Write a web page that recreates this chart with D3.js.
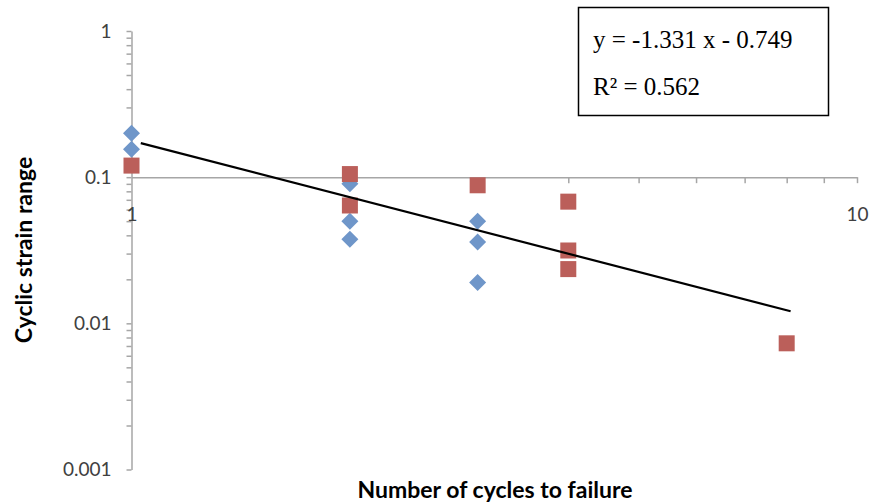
<!DOCTYPE html>
<html>
<head>
<meta charset="utf-8">
<script src="https://cdn.jsdelivr.net/npm/d3@7"></script>
<style>
	body { margin: 0; background: #fff; }
	.axis text { font-family: Lato, "Open Sans", sans-serif; font-size: 19px; fill: #404040; }
	.axis path, .axis line { stroke: #a6a6a6; stroke-width: 1.5; }
	.title { font-family: Lato, "Open Sans", sans-serif; font-weight: bold; font-size: 23px; fill: #000; }
	.eq { font-family: "Liberation Serif", "DejaVu Serif", serif; font-size: 25px; fill: #000; }
</style>
</head>
<body>
<script>
	"use strict";

	// series 1 (blue diamonds)
	var blueX = [1, 1, 2, 2, 2, 3, 3, 3];
	var blueY = [0.2, 0.155, 0.09, 0.05, 0.0376, 0.05, 0.036, 0.019];
	// series 2 (red squares)
	var redX = [1, 2, 2, 3, 4, 4, 4, 8];
	var redY = [0.12, 0.105, 0.064, 0.088, 0.068, 0.0315, 0.0235, 0.0073];
	// trend line ends as drawn
	var trendX = [1.03, 8.1];
	var trendY = [0.171, 0.0121];
	var xTickLabels = [1, 10];
	var yTickLabels = [0.001, 0.01, 0.1, 1];
	var eqLines = ["y = -1.331 x - 0.749", "R² = 0.562"];

	var width = 870,
		height = 502;

	var svg = d3.select("body").append("svg")
		.attr("width", width)
		.attr("height", height);

	var x = d3.scaleLog().domain([1, 10]).range([131.5, 857]);
	var y = d3.scaleLog().domain([0.001, 1]).range([469.5, 31]);

	// every 1..9 step of each decade
	function logTicks(lo, hi) {
		var t = [];
		for (var e = lo; e < hi; e++) {
			for (var k = 1; k < 10; k++) t.push(k * Math.pow(10, e));
		}
		t.push(Math.pow(10, hi));
		return t;
	}
	function isLabel(list) {
		return function(d) {
			for (var i = 0; i < list.length; i++) {
				if (Math.abs(d - list[i]) / list[i] < 1e-6) return String(list[i]);
			}
			return "";
		};
	}

	var yAxis = d3.axisLeft(y)
		.tickValues(logTicks(-3, 0))
		.tickFormat(isLabel(yTickLabels))
		.tickSize(5)
		.tickSizeOuter(0)
		.tickPadding(15);

	var xAxis = d3.axisBottom(x)
		.tickValues(logTicks(0, 1))
		.tickFormat(isLabel(xTickLabels))
		.tickSize(6)
		.tickSizeOuter(0)
		.tickPadding(24);

	svg.append("g")
		.attr("class", "axis")
		.attr("transform", "translate(" + x(1) + ",0)")
		.call(yAxis);

	var gx = svg.append("g")
		.attr("class", "axis")
		.attr("transform", "translate(0," + y(0.1) + ")")
		.call(xAxis);
	gx.selectAll(".tick").filter(function(d) { return d === 1; }).select("line").remove();

	// blue diamonds
	svg.append("g").selectAll("path")
		.data(d3.range(blueX.length))
		.enter().append("path")
		.attr("d", "M0,-8.5L8.5,0L0,8.5L-8.5,0Z")
		.attr("fill", "#6f96c9")
		.attr("transform", function(i) { return "translate(" + x(blueX[i]) + "," + y(blueY[i]) + ")"; });

	// red squares
	svg.append("g").selectAll("rect")
		.data(d3.range(redX.length))
		.enter().append("rect")
		.attr("x", function(i) { return x(redX[i]) - 8; })
		.attr("y", function(i) { return y(redY[i]) - 8; })
		.attr("width", 16)
		.attr("height", 16)
		.attr("fill", "#bb5f5a");

	// trend line
	svg.append("line")
		.attr("x1", x(trendX[0])).attr("y1", y(trendY[0]))
		.attr("x2", x(trendX[1])).attr("y2", y(trendY[1]))
		.attr("stroke", "#000")
		.attr("stroke-width", 2.2);

	// axis titles
	svg.append("text")
		.attr("class", "title")
		.attr("text-anchor", "middle")
		.attr("transform", "translate(32,250) rotate(-90)")
		.text("Cyclic strain range");

	svg.append("text")
		.attr("class", "title")
		.attr("text-anchor", "middle")
		.attr("x", 495)
		.attr("y", 498)
		.text("Number of cycles to failure");

	// equation box
	svg.append("rect")
		.attr("x", 578.5).attr("y", 7.5)
		.attr("width", 250).attr("height", 108)
		.attr("fill", "#fff")
		.attr("stroke", "#000")
		.attr("stroke-width", 1.5);

	svg.selectAll("text.eq")
		.data(eqLines)
		.enter().append("text")
		.attr("class", "eq")
		.attr("x", 593)
		.attr("y", function(d, i) { return 48 + i * 47; })
		.text(function(d) { return d; });
</script>
</body>
</html>
